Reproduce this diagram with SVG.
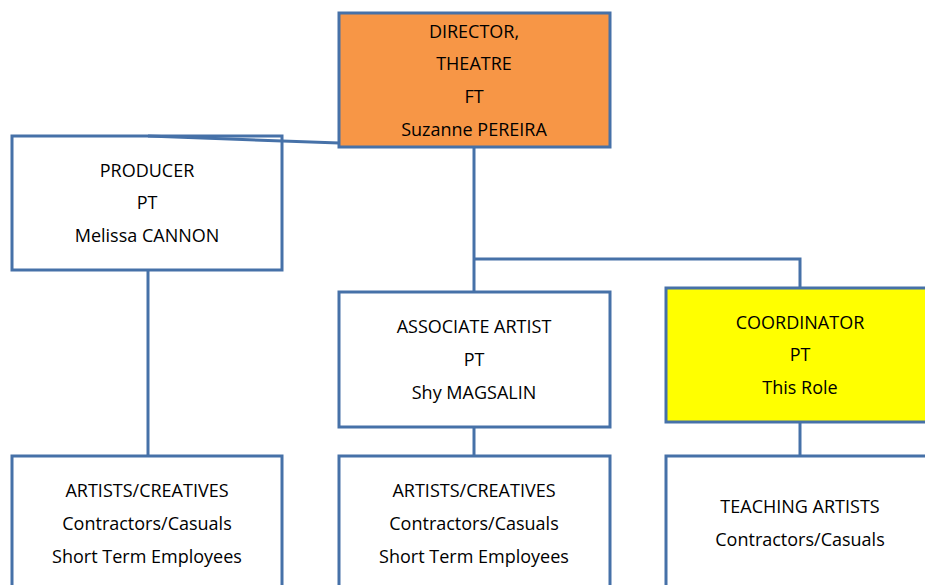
<svg xmlns="http://www.w3.org/2000/svg" width="925" height="585" viewBox="0 0 925 585">
<style>
.box{stroke:#4671a8;stroke-width:3;fill:#fff}
.ln{stroke:#4671a8;stroke-width:3;fill:none}
text{font-family:"Open Sans","Liberation Sans",sans-serif;font-size:18px;fill:#000;text-anchor:middle}
</style>
<rect width="925" height="585" fill="#fff"/>
<g id="director">
<rect class="box" x="339" y="13" width="271" height="134" style="fill:#f79646"/>
<text x="474" y="38">DIRECTOR,</text>
<text x="474" y="70">THEATRE</text>
<text x="474" y="103">FT</text>
<text x="474" y="136">Suzanne PEREIRA</text>
</g>
<g id="producer">
<rect class="box" x="12" y="136" width="270" height="134"/>
<text x="147" y="177">PRODUCER</text>
<text x="147" y="209">PT</text>
<text x="147" y="242">Melissa CANNON</text>
</g>
<g id="associate">
<rect class="box" x="339" y="292" width="271" height="135"/>
<text x="474" y="333">ASSOCIATE ARTIST</text>
<text x="474" y="366">PT</text>
<text x="474" y="399">Shy MAGSALIN</text>
</g>
<g id="coordinator">
<rect class="box" x="666" y="288" width="275" height="134" style="fill:#ffff00"/>
<text x="800" y="329">COORDINATOR</text>
<text x="800" y="361">PT</text>
<text x="800" y="394">This Role</text>
</g>
<g id="artists1">
<rect class="box" x="12" y="456" width="270" height="140"/>
<text x="147" y="497">ARTISTS/CREATIVES</text>
<text x="147" y="530">Contractors/Casuals</text>
<text x="147" y="563">Short Term Employees</text>
</g>
<g id="artists2">
<rect class="box" x="339" y="456" width="271" height="140"/>
<text x="474" y="497">ARTISTS/CREATIVES</text>
<text x="474" y="530">Contractors/Casuals</text>
<text x="474" y="563">Short Term Employees</text>
</g>
<g id="teaching">
<rect class="box" x="666" y="456" width="275" height="140"/>
<text x="800" y="513">TEACHING ARTISTS</text>
<text x="800" y="546">Contractors/Casuals</text>
</g>
<g id="connectors">
<path class="ln" d="M148 136 L339 143"/>
<path class="ln" d="M474 148 V291"/>
<path class="ln" d="M474 259 H800 V287"/>
<path class="ln" d="M148 271 V455"/>
<path class="ln" d="M474 428 V455"/>
<path class="ln" d="M800 423 V455"/>
</g>
</svg>
